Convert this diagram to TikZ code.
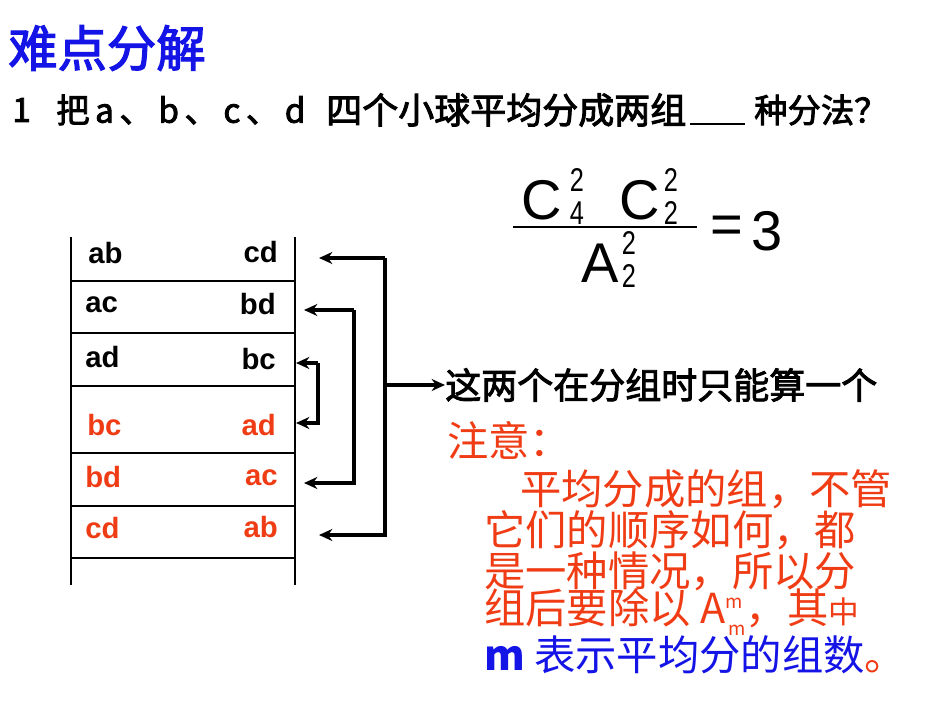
\documentclass[tikz,border=0pt]{standalone}
\usepackage{fontspec}
\setmainfont{Liberation Sans}
\newfontfamily\cjk{Noto Sans CJK SC}
\newfontfamily\cjkb[AutoFakeBold=2.5]{Noto Sans CJK SC}
\definecolor{nred}{RGB}{240,60,20}
\definecolor{nblue}{RGB}{20,20,230}
\usetikzlibrary{arrows.meta}
\begin{document}
\begin{tikzpicture}[x=0.75pt,y=-0.75pt,
  cell/.style={font=\fontsize{22}{22}\selectfont\bfseries,inner sep=0pt},
  big/.style={font=\fontsize{42}{42}\selectfont,inner sep=0pt},
  scr/.style={font=\fontsize{19}{19}\selectfont,inner sep=0pt,yscale=1.3},
  q/.style={font=\cjkb\bfseries\fontsize{25}{25}\selectfont,anchor=west,inner sep=0pt},
  note/.style={font=\cjk\fontsize{31}{31}\selectfont,text=nred,inner sep=0pt,anchor=west},
  grid/.style={line width=0.8pt},
  br/.style={line width=3pt,-{Stealth[length=10pt,width=9pt]}}]
\useasboundingbox (0,0) rectangle (950,713);
\node[font=\cjkb\bfseries\fontsize{37}{37}\selectfont,text=nblue,anchor=west,inner sep=0pt] (title) at (8,48) {难点分解};
\node[q] (q1) at (12,110) {1};
\node[q] (q2) at (56,110) {把\,a\,、\,b\,、\,c\,、\,d};
\node[q,font=\cjkb\bfseries\fontsize{27}{27}\selectfont] (q3) at (326,110) {四个小球平均分成两组};
\node[q] (q4) at (754,110) {种分法？};
\coordinate (u1) at (690,124); \coordinate (u2) at (745,124);
\draw[line width=1.5pt] (u1) -- (u2);
% formula
\node[big] (c1) at (542,200) {C};
\node[scr] (c1s) at (577,180) {2};
\node[scr] (c1b) at (577,213) {4};
\node[big] (c2) at (640,200) {C};
\node[scr] (c2s) at (671,180) {2};
\node[scr] (c2b) at (671,213) {2};
\coordinate (f1) at (513,227); \coordinate (f2) at (697,227);
\draw[line width=1.5pt] (f1) -- (f2);
\node[big] (a) at (600,263) {A};
\node[scr] (as) at (629,243) {2};
\node[scr] (ab) at (629,276) {2};
\node[big] (eq) at (727,230) {=};
\node[big] (three) at (767,231) {3};
% table
\coordinate (t1) at (71,237); \coordinate (t2) at (71,585);
\coordinate (t3) at (295,237); \coordinate (t4) at (295,585);
\draw[grid] (t1) -- (t2); \draw[grid] (t3) -- (t4);
\foreach \y in {281,333,386,453,506,558} \draw[grid] (71,\y) -- (295,\y);
\node[cell,anchor=west] (l1) at (88,253) {ab}; \node[cell,anchor=east] (r1) at (278,252) {cd};
\node[cell,anchor=west] (l2) at (85,305) {ac}; \node[cell,anchor=east] (r2) at (276,304) {bd};
\node[cell,anchor=west] (l3) at (85,357) {ad}; \node[cell,anchor=east] (r3) at (276,359) {bc};
\node[cell,anchor=west,text=nred] (l4) at (87,425) {bc}; \node[cell,anchor=east,text=nred] (r4) at (276,425) {ad};
\node[cell,anchor=west,text=nred] (l5) at (85,477) {bd}; \node[cell,anchor=east,text=nred] (r5) at (278,478) {ac};
\node[cell,anchor=west,text=nred] (l6) at (85,528) {cd}; \node[cell,anchor=east,text=nred] (r6) at (278,527) {ab};
% brackets
\coordinate (o1) at (319,258); \coordinate (o2) at (319,535);
\coordinate (m1) at (304,310); \coordinate (m2) at (304,483);
\coordinate (i1) at (296,363); \coordinate (i2) at (296,423);
\draw[br] (385,258) -- (o1);
\draw[br] (385,258) |- (o2);
\draw[br] (354,310) -- (m1);
\draw[br] (354,310) |- (m2);
\draw[br] (318,363) -- (i1);
\draw[br] (318,363) |- (i2);
\node[font=\cjkb\bfseries\fontsize{27}{27}\selectfont,anchor=west,inner sep=0pt] (msg) at (445,385) {这两个在分组时只能算一个};
\draw[br] (385,385) -- (msg.west);
% note
\node[note] (n0) at (447,440) {注意：};
\node[note] (n1) at (520,489) {平均分成的组，不管};
\node[note] (n2) at (484,530) {它们的顺序如何，都};
\node[note] (n3) at (484,571) {是一种情况，所以分};
\node[note] (n4) at (484,612) {组后要除以 A\rlap{\raisebox{11pt}{\fontsize{14}{14}\selectfont m}}\raisebox{-9pt}{\fontsize{14}{14}\selectfont\,m}，其{\fontsize{23}{23}\selectfont 中}};
\node[note,text=nblue] (n5) at (484,655) {{\bfseries m} 表示平均分的组数\textcolor{nred}{。}};
\end{tikzpicture}
\end{document}
